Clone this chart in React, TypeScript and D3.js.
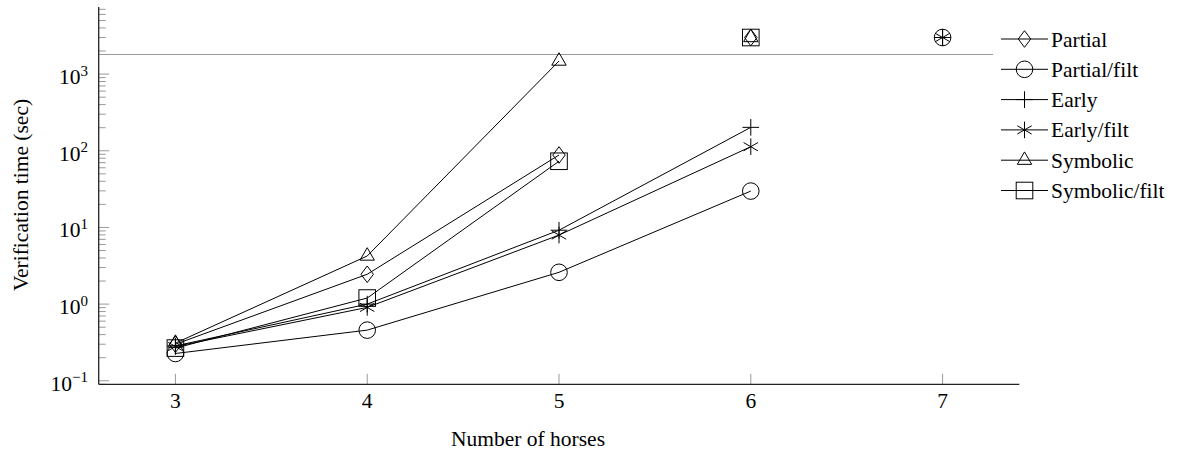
import React from "react";
import * as d3 from "d3";

// ---- Data ----
const horses = [3, 4, 5, 6, 7];
const seriesNames = ["Partial", "Partial/filt", "Early", "Early/filt", "Symbolic", "Symbolic/filt"];
const seriesMarks = ["diamond", "circle", "plus", "asterisk", "triangle", "square"];
const partialVals = [0.30, 2.45, 88, null, null];
const partialFiltVals = [0.227, 0.458, 2.6, 29.8, null];
const earlyVals = [0.285, 1.0, 9.2, 202, null];
const earlyFiltVals = [0.28, 0.906, 7.95, 113, null];
const symbolicVals = [0.31, 4.24, 1480, null, null];
const symbolicFiltVals = [0.267, 1.2, 73, null, null];
const seriesValues = [partialVals, partialFiltVals, earlyVals, earlyFiltVals, symbolicVals, symbolicFiltVals];
// x position at which each series timed out
const timeoutAt = [6, 7, 7, 7, 6, 6];
const timeoutMarkValue = 3000;
const timeoutLineValue = 1800;
const yDecades = [-1, 0, 1, 2, 3];

const FONT = "'Liberation Serif', 'DejaVu Serif', serif";
const FS = 21.5;
const LFS = 21.5;

const W = 1178, H = 457;
const x = d3.scaleLinear().domain([2.6, 7.4]).range([98.7, 1019.3]);
const y = d3.scaleLog().domain([0.09, 7500]).range([384.3, 7]);
const R = 8.3;

function Marker({ type, cx, cy }: { type: string; cx: number; cy: number }) {
  const s = { fill: "none", stroke: "#000", strokeWidth: 1 };
  switch (type) {
    case "circle":
      return <circle cx={cx} cy={cy} r={R} {...s} />;
    case "square":
      return <rect x={cx - R} y={cy - R} width={2 * R} height={2 * R} {...s} />;
    case "diamond":
      return (
        <path
          d={`M${cx},${cy - R}L${cx + 0.75 * R},${cy}L${cx},${cy + R}L${cx - 0.75 * R},${cy}Z`}
          {...s}
        />
      );
    case "triangle":
      return (
        <path
          d={`M${cx},${cy - R}L${cx + 0.866 * R},${cy + 0.5 * R}L${cx - 0.866 * R},${cy + 0.5 * R}Z`}
          {...s}
        />
      );
    case "plus":
      return <path d={`M${cx - R},${cy}H${cx + R}M${cx},${cy - R}V${cy + R}`} {...s} />;
    case "asterisk": {
      const a = 0.866 * R, b = 0.5 * R;
      return (
        <path
          d={`M${cx},${cy - R}V${cy + R}M${cx - a},${cy - b}L${cx + a},${cy + b}M${cx - a},${cy + b}L${cx + a},${cy - b}`}
          {...s}
        />
      );
    }
    default:
      return null;
  }
}

const txt = { fontFamily: FONT, fontSize: FS, fill: "#000" } as React.CSSProperties;

export default function App() {
  const line = d3
    .line<[number, number | null]>()
    .defined((d) => d[1] != null)
    .x((d) => x(d[0]))
    .y((d) => y(d[1] as number));

  const minorTicks: number[] = [];
  for (let dd = -2; dd <= 3; dd++) {
    for (let k = 2; k <= 9; k++) {
      const v = k * Math.pow(10, dd);
      if (v >= 0.09 && v <= 7500) minorTicks.push(v);
    }
  }

  const axisX0 = x.range()[0];
  const axisX1 = x.range()[1];
  const axisY0 = y.range()[0];
  const axisY1 = y.range()[1];

  const legendX = 1001, legendY0 = 39, legendDY = 30.3;

  return (
    <svg
      width={W}
      height={H}
      style={{ position: "absolute", left: 0, top: 0, background: "#fff", fontFamily: FONT }}
    >
      <rect x={0} y={0} width={W} height={H} fill="#fff" />
      {/* timeout line */}
      <line
        x1={axisX0}
        x2={axisX1}
        y1={y(timeoutLineValue)}
        y2={y(timeoutLineValue)}
        stroke="#999"
        strokeWidth={1.2}
      />
      {/* minor y ticks */}
      {minorTicks.map((v, i) => (
        <line key={"m" + i} x1={axisX0} x2={axisX0 + 7} y1={y(v)} y2={y(v)} stroke="#999" strokeWidth={1} />
      ))}
      {/* major y ticks */}
      {yDecades.map((dd) => (
        <line
          key={"M" + dd}
          x1={axisX0}
          x2={axisX0 + 10.5}
          y1={y(Math.pow(10, dd))}
          y2={y(Math.pow(10, dd))}
          stroke="#999"
          strokeWidth={1}
        />
      ))}
      {/* x ticks */}
      {horses.map((h) => (
        <line key={"x" + h} x1={x(h)} x2={x(h)} y1={axisY0} y2={axisY0 - 10.5} stroke="#999" strokeWidth={1} />
      ))}
      {/* axes */}
      <line x1={axisX0} x2={axisX0} y1={axisY1} y2={axisY0} stroke="#222" strokeWidth={1.3} />
      <line x1={axisX0} x2={axisX1} y1={axisY0} y2={axisY0} stroke="#222" strokeWidth={1.3} />
      {/* y tick labels */}
      {yDecades.map((dd) => (
        <text key={"yl" + dd} x={88} y={y(Math.pow(10, dd)) + 10} textAnchor="end" style={txt}>
          10
          <tspan dy={-8.5} style={{ fontSize: 15 }}>
            {dd < 0 ? "\u2212" + Math.abs(dd) : String(dd)}
          </tspan>
        </text>
      ))}
      {/* x tick labels */}
      {horses.map((h) => (
        <text key={"xl" + h} x={x(h)} y={axisY0 + 23.5} textAnchor="middle" style={txt}>
          {h}
        </text>
      ))}
      {/* axis labels */}
      <text x={528} y={446} textAnchor="middle" style={txt}>
        Number of horses
      </text>
      <text transform={`translate(28,195) rotate(-90)`} textAnchor="middle" style={txt}>
        Verification time (sec)
      </text>
      {/* series */}
      {seriesValues.map((vals, si) => {
        const pts = horses.map((h, i) => [h, vals[i]] as [number, number | null]);
        return (
          <g key={"s" + si}>
            <path d={line(pts) || ""} fill="none" stroke="#000" strokeWidth={1} />
            {pts
              .filter((p) => p[1] != null)
              .map((p, i) => (
                <Marker key={i} type={seriesMarks[si]} cx={x(p[0])} cy={y(p[1] as number)} />
              ))}
            <Marker type={seriesMarks[si]} cx={x(timeoutAt[si])} cy={y(timeoutMarkValue)} />
          </g>
        );
      })}
      {/* legend */}
      <rect x={993} y={20} width={185} height={190} fill="#fff" />
      {seriesNames.map((name, i) => {
        const cy = legendY0 + i * legendDY;
        return (
          <g key={"lg" + i}>
            <line x1={legendX} x2={legendX + 47} y1={cy} y2={cy} stroke="#000" strokeWidth={1} />
            <Marker type={seriesMarks[i]} cx={legendX + 23.5} cy={cy} />
            <text x={legendX + 50} y={cy + 7.5} style={{ ...txt, fontSize: LFS }}>
              {name}
            </text>
          </g>
        );
      })}
    </svg>
  );
}
